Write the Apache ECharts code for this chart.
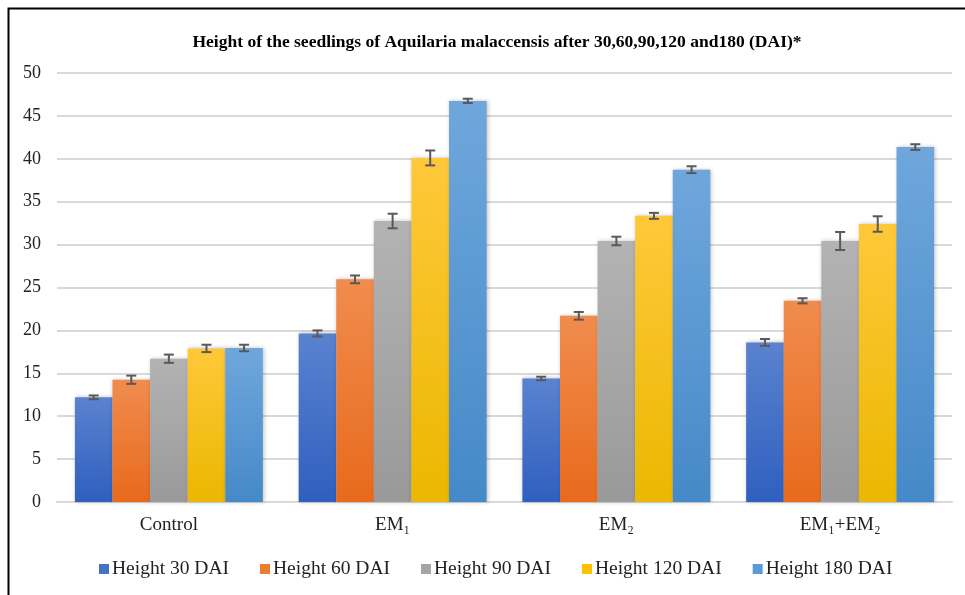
<!DOCTYPE html>
<html>
<head>
<meta charset="utf-8">
<script src="https://cdn.jsdelivr.net/npm/echarts@6/dist/echarts.min.js"></script>
<style>
html,body{margin:0;padding:0;background:#fff;}
#c{width:965px;height:595px;}
</style>
</head>
<body>
<div id="c"></div>
<script>
var categories = ['Control', 'EM\u2081', 'EM\u2082', 'EM\u2081+EM\u2082'];
var seriesNames = ['Height 30 DAI', 'Height 60 DAI', 'Height 90 DAI', 'Height 120 DAI', 'Height 180 DAI'];
var h30 = [12.2, 19.65, 14.4, 18.6];
var h60 = [14.25, 25.95, 21.7, 23.45];
var h90 = [16.7, 32.75, 30.42, 30.42];
var h120 = [17.9, 40.1, 33.35, 32.4];
var h180 = [17.95, 46.75, 38.73, 41.37];
var e30 = [0.22, 0.35, 0.2, 0.4];
var e60 = [0.48, 0.45, 0.45, 0.3];
var e90 = [0.48, 0.85, 0.5, 1.05];
var e120 = [0.43, 0.87, 0.35, 0.9];
var e180 = [0.38, 0.25, 0.4, 0.33];
var yTicks = [0, 5, 10, 15, 20, 25, 30, 35, 40, 45, 50];

var values = [h30, h60, h90, h120, h180];
var errors = [e30, e60, e90, e120, e180];
var colorsTop = ['#5a82cf', '#f08c4e', '#b3b3b3', '#ffc83a', '#6fa7dc'];
var colorsBot = ['#2f5fbf', '#e86a1c', '#999999', '#eab800', '#4589c8'];
var legendColors = ['#4472C4', '#ED7D31', '#A5A5A5', '#FFC000', '#5B9BD5'];
var catGap = 0.16;

var series = [];
values.forEach(function (vals, i) {
  series.push({
    name: seriesNames[i],
    type: 'bar',
    data: vals,
    barGap: '0%',
    barCategoryGap: (catGap * 100) + '%',
    itemStyle: {
      color: new echarts.graphic.LinearGradient(0, 0, 0, 1, [
        {offset: 0, color: colorsTop[i]},
        {offset: 1, color: colorsBot[i]}
      ]),
      shadowBlur: 4,
      shadowColor: 'rgba(0,0,0,0.25)',
      shadowOffsetX: 1
    },
    z: 2
  });
});

values.forEach(function (vals, i) {
  var data = vals.map(function (v, j) { return [j, v - errors[i][j], v + errors[i][j]]; });
  series.push({
    name: seriesNames[i],
    type: 'custom',
    data: data,
    z: 5,
    silent: true,
    encode: {x: 0, y: [1, 2]},
    renderItem: function (params, api) {
      var idx = api.value(0);
      var lo = api.coord([idx, api.value(1)]);
      var hi = api.coord([idx, api.value(2)]);
      var band = api.size([1, 0])[0];
      var bw = band * (1 - catGap) / 5;
      var x = lo[0] + (i - 2) * bw;
      var cap = 5;
      var st = {stroke: '#595959', lineWidth: 2};
      return {
        type: 'group',
        children: [
          {type: 'line', shape: {x1: x, y1: lo[1], x2: x, y2: hi[1]}, style: st},
          {type: 'line', shape: {x1: x - cap, y1: lo[1], x2: x + cap, y2: lo[1]}, style: st},
          {type: 'line', shape: {x1: x - cap, y1: hi[1], x2: x + cap, y2: hi[1]}, style: st}
        ]
      };
    }
  });
});

var chart = echarts.init(document.getElementById('c'));
chart.setOption({
  backgroundColor: '#ffffff',
  animation: false,
  title: {
    text: 'Height of the seedlings of Aquilaria malaccensis after 30,60,90,120 and180 (DAI)*',
    left: 492, top: 28, textAlign: 'center',
    textStyle: {fontFamily: 'Liberation Serif', fontWeight: 'bold', fontSize: 17.5, color: '#000'}
  },
  legend: {
    data: seriesNames.map(function (n, i) { return {name: n, itemStyle: {color: legendColors[i]}}; }),
    top: 554, left: 94,
    icon: 'rect', itemWidth: 10, itemHeight: 10, itemGap: 31,
    textStyle: {fontFamily: 'Liberation Serif', fontSize: 19.5, color: '#222', padding: [0, 0, 0, -2]}
  },
  grid: {left: 57, right: 13, top: 73, bottom: 93},
  xAxis: {
    type: 'category', data: categories,
    axisLine: {lineStyle: {color: '#d9d9d9', width: 2}},
    axisTick: {show: false},
    axisLabel: {fontFamily: 'Liberation Serif', fontSize: 19, color: '#222', margin: 14}
  },
  yAxis: {
    type: 'value', min: yTicks[0], max: yTicks[yTicks.length - 1], interval: 5,
    axisLine: {show: false}, axisTick: {show: false},
    splitLine: {lineStyle: {color: '#d9d9d9', width: 2}},
    axisLabel: {fontFamily: 'Liberation Serif', fontSize: 18, color: '#222', margin: 16}
  },
  graphic: [{
    type: 'rect', left: 6, top: 6, z: 100, silent: true,
    shape: {x: 0, y: 0, width: 1000, height: 1000},
    style: {fill: 'none', stroke: '#000', lineWidth: 2}
  }],
  series: series
});
</script>
</body>
</html>
